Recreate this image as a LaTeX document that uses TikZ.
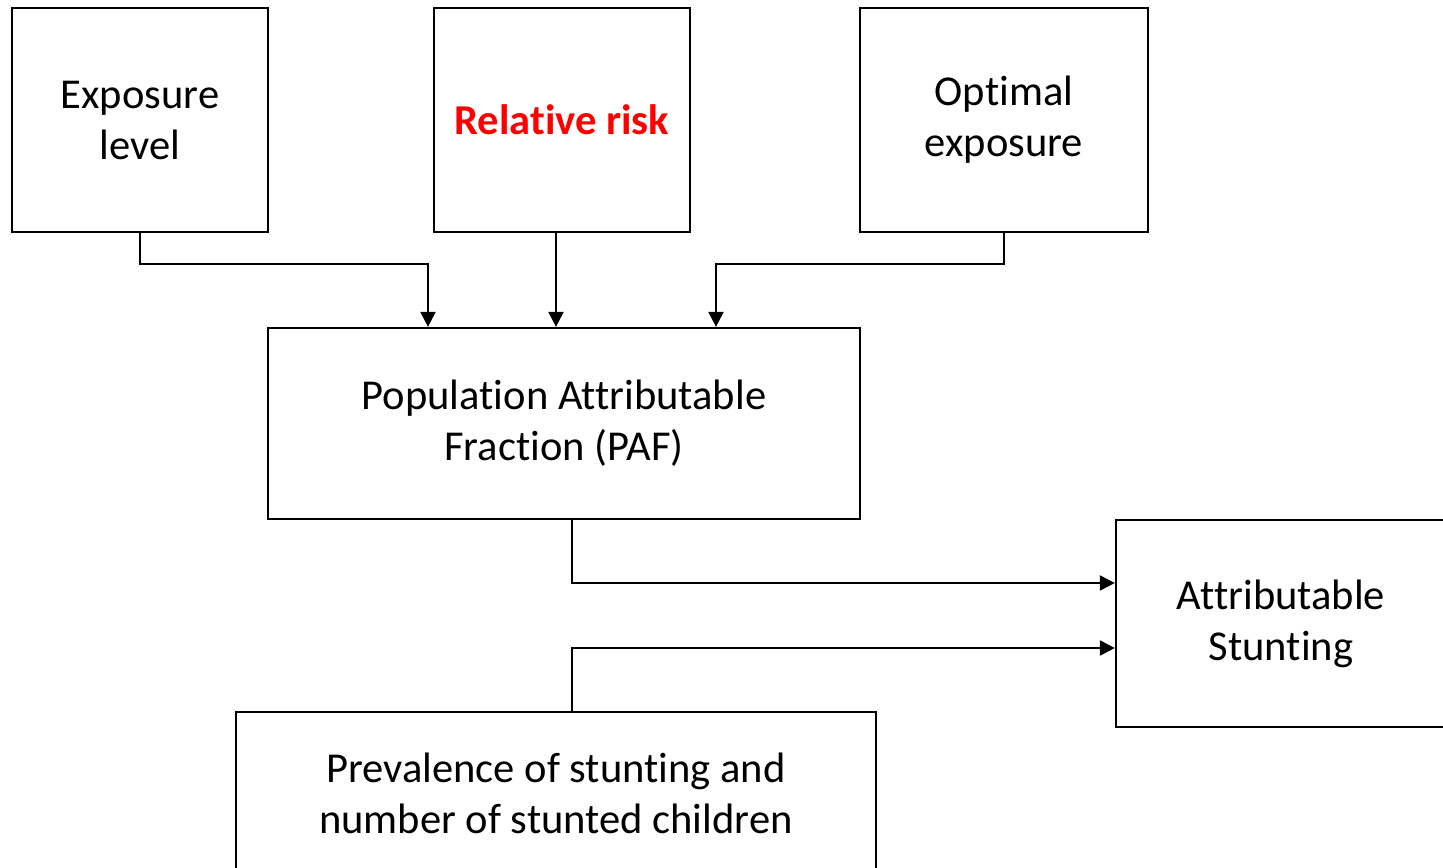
\documentclass[tikz,border=0pt]{standalone}
\usepackage{fontspec}
\setmainfont{Carlito}[Ligatures={NoCommon}]
\usetikzlibrary{arrows.meta}

\begin{document}
\begin{tikzpicture}[x=0.01cm, y=-0.01cm, >={Triangle[length=0.15cm, width=0.15cm]},
    every node/.style={font=\fontsize{12.1}{14.5}\selectfont},
    box/.style={draw, line width=0.6pt, align=center, inner sep=0pt},
    link/.style={->, line width=0.6pt}]

    \useasboundingbox (0,0) rectangle (1443,867);

    % --- 1. 上段の入力 ---
    \node[box, minimum width=2.56cm, minimum height=2.24cm] (expo) at (140,120) {Exposure\\ level};
    \node[box, minimum width=2.56cm, minimum height=2.24cm, text=red, font=\fontsize{12.1}{14.5}\selectfont\bfseries] (rr) at (562,120) {Relative risk};
    \node[box, minimum width=2.88cm, minimum height=2.24cm] (optexp) at (1004,120) {Optimal\\ exposure};

    % --- 2. PAF と結果 ---
    \node[box, minimum width=5.92cm, minimum height=1.91cm] (paf) at (564,423.5) {Population Attributable\\ Fraction (PAF)};
    \node[box, minimum width=3.30cm, minimum height=2.07cm] (attr) at (1281,623.5) {Attributable\\ Stunting};
    \node[box, minimum width=6.40cm, minimum height=1.62cm] (prev) at (556,793) {Prevalence of stunting and\\ number of stunted children};

    % --- 3. 接続点 ---
    \coordinate (jexpo) at (428,264);
    \coordinate (jrr) at (556,264);
    \coordinate (jopt) at (716,264);
    \coordinate (jpaf) at (572,583);
    \coordinate (jprev) at (572,648);

    % --- 4. 矢印 ---
    \draw[link] (expo.south) |- (jexpo) -- (jexpo |- paf.north);
    \draw[link] (rr.south -| jrr) -- (jrr |- paf.north);
    \draw[link] (optexp.south) |- (jopt) -- (jopt |- paf.north);
    \draw[link] (paf.south -| jpaf) -- (jpaf) -- (jpaf -| attr.west);
    \draw[link] (prev.north -| jprev) -- (jprev) -- (jprev -| attr.west);

\end{tikzpicture}
\end{document}
